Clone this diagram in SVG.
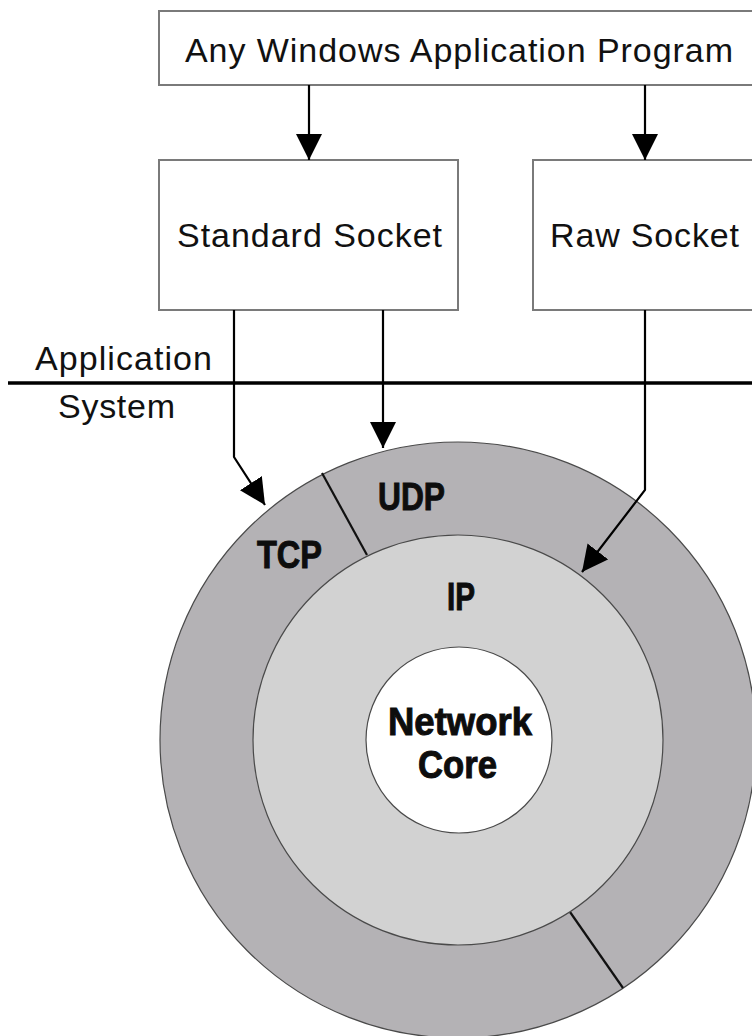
<svg xmlns="http://www.w3.org/2000/svg" width="752" height="1036" viewBox="0 0 752 1036">
  <style>
    .box { fill: #ffffff; stroke: #7a7a7a; stroke-width: 2; }
    .lbl { font-family: "Liberation Sans", Arial, sans-serif; font-size: 34px; fill: #111111; }
    .blbl { font-family: "Liberation Sans Narrow", "Liberation Sans", Arial, sans-serif; font-weight: bold; font-size: 39px; fill: #0d0d0d; stroke: #0d0d0d; stroke-width: 1; }
    .ring { stroke: #4a4a4a; stroke-width: 1.2; }
    .conn { fill: none; stroke: #000000; stroke-width: 2.2; }
    .divider { stroke: #111111; stroke-width: 2.2; }
  </style>
  <defs>
    <marker id="arrow" viewBox="0 0 26 26" refX="26" refY="13" markerWidth="26" markerHeight="26" markerUnits="userSpaceOnUse" orient="auto">
      <path d="M0,0 L26,13 L0,26 z" fill="#000000"/>
    </marker>
  </defs>
  <rect width="752" height="1036" fill="#ffffff"/>

  <g id="stack">
    <g id="transport-ring">
      <circle cx="458" cy="740" r="298" fill="#b4b2b5" class="ring"/>
      <line class="divider" x1="322" y1="473" x2="367" y2="555"/>
      <line class="divider" x1="570" y1="912" x2="623" y2="988"/>
    </g>
    <g id="ip">
      <circle cx="458" cy="740" r="205" fill="#d2d2d2" class="ring"/>
    </g>
    <g id="core">
      <circle cx="459" cy="740" r="93" fill="#ffffff" class="ring"/>
    </g>
    <g id="udp-label"><text class="blbl" x="378" y="510" textLength="67" lengthAdjust="spacingAndGlyphs">UDP</text></g>
    <g id="tcp-label"><text class="blbl" x="257" y="568" textLength="65" lengthAdjust="spacingAndGlyphs">TCP</text></g>
    <g id="ip-label"><text class="blbl" x="447" y="610" textLength="28" lengthAdjust="spacingAndGlyphs">IP</text></g>
    <g id="core-label">
      <text class="blbl" x="388" y="735" textLength="144" lengthAdjust="spacingAndGlyphs">Network</text>
      <text class="blbl" x="418" y="778" textLength="79" lengthAdjust="spacingAndGlyphs">Core</text>
    </g>
  </g>

  <g id="app-program">
    <rect class="box" x="159" y="11" width="620" height="74"/>
    <text class="lbl" x="185" y="62" textLength="548" lengthAdjust="spacing">Any Windows Application Program</text>
  </g>
  <g id="standard-socket">
    <rect class="box" x="159" y="160" width="299" height="150"/>
    <text class="lbl" x="177" y="247" textLength="265" lengthAdjust="spacing">Standard Socket</text>
  </g>
  <g id="raw-socket">
    <rect class="box" x="533" y="160" width="240" height="150"/>
    <text class="lbl" x="550" y="247" textLength="189" lengthAdjust="spacing">Raw Socket</text>
  </g>

  <g id="boundary">
    <line x1="8" y1="383" x2="752" y2="383" stroke="#000000" stroke-width="3.5"/>
    <text class="lbl" x="35" y="370" textLength="177" lengthAdjust="spacing">Application</text>
    <text class="lbl" x="58" y="418" textLength="117" lengthAdjust="spacing">System</text>
  </g>

  <g id="connectors">
    <path class="conn" d="M309,85 L309,160" marker-end="url(#arrow)"/>
    <path class="conn" d="M645,85 L645,160" marker-end="url(#arrow)"/>
    <path class="conn" d="M234,310 L234,457 L265,505" marker-end="url(#arrow)"/>
    <path class="conn" d="M383,310 L383,448" marker-end="url(#arrow)"/>
    <path class="conn" d="M645,310 L645,490 L582,572" marker-end="url(#arrow)"/>
  </g>
</svg>
